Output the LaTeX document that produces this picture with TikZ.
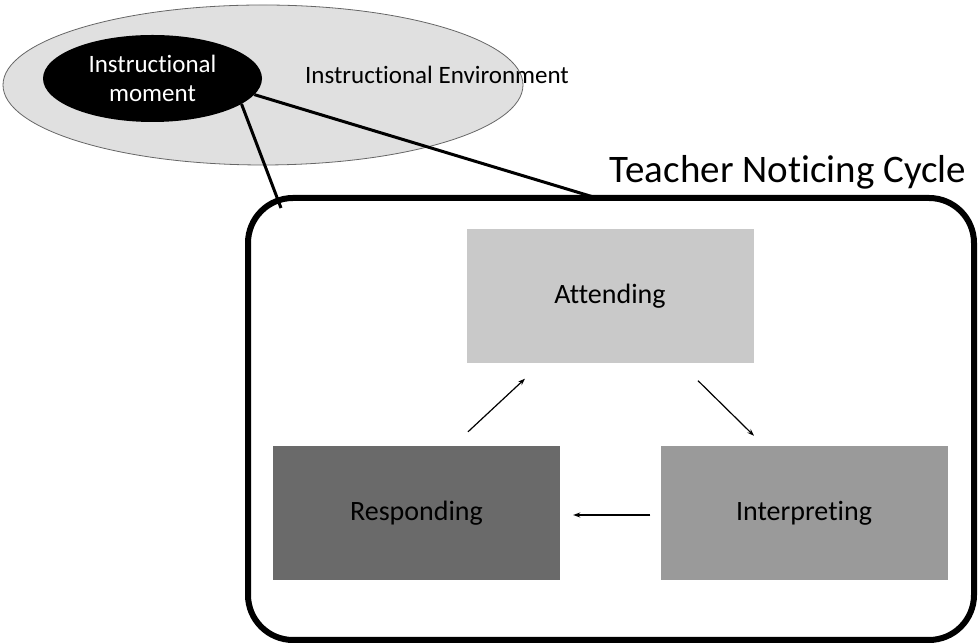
\documentclass[tikz,border=0pt]{standalone}
\usepackage{fontspec}
\setmainfont{Carlito}[Ligatures=NoCommon]
\usetikzlibrary{shapes.geometric, arrows.meta}

\definecolor{envgray}{HTML}{E0E0E0}
\definecolor{attgray}{HTML}{C9C9C9}
\definecolor{intgray}{HTML}{9A9A9A}
\definecolor{resgray}{HTML}{6A6A6A}

\begin{document}
\begin{tikzpicture}[x=1pt, y=1pt,
    phase/.style = {rectangle, inner sep=0pt, minimum width=287pt, minimum height=134pt, font=\fontsize{28}{32}\selectfont},
    cycarrow/.style = {-{Stealth[length=7pt, width=5pt]}, line width=1.2pt},
    link/.style = {line width=3pt}]
    \useasboundingbox (0,0) rectangle (980,644);
    % instructional environment
    \node[ellipse, draw=gray!80!black, line width=0.8pt, fill=envgray, minimum width=520pt, minimum height=160pt] (env) at (263,559) {};
    \node[font=\fontsize{25}{30}\selectfont] (envtext) at (437,569) {Instructional Environment};
    \node[ellipse, fill=black, text=white, minimum width=219pt, minimum height=87pt, inner sep=0pt, align=center, font=\fontsize{25}{29}\selectfont] (moment) at (152.5,565.5) {Instructional\\moment};
    % noticing cycle
    \coordinate (cyctop) at (600,445);
    \coordinate (cyccorner) at (281,436);
    \draw[link] (moment.-9.9) -- (cyctop);
    \draw[link] (moment.-16.8) -- (cyccorner);
    \draw[line width=6pt, rounded corners=45pt] (248,446) rectangle (974,4);
    \node[font=\fontsize{39}{44}\selectfont] (title) at (788,472) {Teacher Noticing Cycle};
    \node[phase, fill=attgray] (att) at (610,347.5) {Attending};
    \node[phase, fill=resgray] (resp) at (416.5,131) {Responding};
    \node[phase, fill=intgray] (interp) at (804,131) {Interpreting};
    \draw[cycarrow] ([shift={(51.5,14)}]resp.north) -- ([shift={(-85,-15)}]att.south);
    \draw[cycarrow] ([shift={(88,-17)}]att.south) -- ([shift={(-50,10)}]interp.north);
    \draw[cycarrow, shorten <=10pt, shorten >=13pt] ([yshift=-2pt]interp.west) -- ([yshift=-2pt]resp.east);
\end{tikzpicture}
\end{document}
